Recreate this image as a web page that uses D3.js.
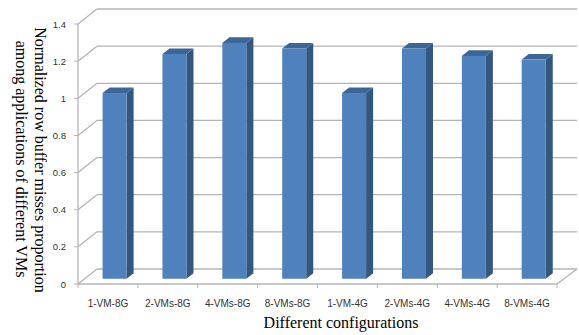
<!DOCTYPE html>
<html>
<head>
<meta charset="utf-8">
<script src="https://cdn.jsdelivr.net/npm/d3@7"></script>
<style>
body { margin: 0; background: #fff; }
</style>
</head>
<body>
<script>

var categories = ["1-VM-8G", "2-VMs-8G", "4-VMs-8G", "8-VMs-8G", "1-VM-4G", "2-VMs-4G", "4-VMs-4G", "8-VMs-4G"];
var values = [1.0, 1.21, 1.27, 1.24, 1.0, 1.24, 1.2, 1.18];
var yTicks = [0, 0.2, 0.4, 0.6, 0.8, 1, 1.2, 1.4];

var width = 579, height = 335;

// depth of the 3d box (back wall offset)
var DX = 19, DY = -15;
var z0 = 0.35, z1 = 0.72;

var x = d3.scaleBand().domain(categories).range([78, 557]);
var y = d3.scaleLinear().domain([0, 1.4]).range([284, 24]);

var svg = d3.select("body").append("svg")
    .attr("width", width)
    .attr("height", height);

var grid = svg.append("g");

// back wall gridlines
grid.selectAll(".back")
    .data(yTicks)
    .enter().append("line")
    .attr("x1", 78 + DX)
    .attr("x2", 557 + DX + 1)
    .attr("y1", function(d) { return y(d) + DY; })
    .attr("y2", function(d) { return y(d) + DY; })
    .attr("stroke", "#b4b4b4")
    .attr("stroke-width", 1.3);

// left wall diagonals
grid.selectAll(".side")
    .data(yTicks)
    .enter().append("line")
    .attr("x1", 78)
    .attr("x2", 78 + DX)
    .attr("y1", function(d) { return y(d); })
    .attr("y2", function(d) { return y(d) + DY; })
    .attr("stroke", "#b4b4b4")
    .attr("stroke-width", 1.3);

// floor right edge
grid.append("line")
    .attr("x1", 557).attr("y1", y(0))
    .attr("x2", 557 + DX + 1).attr("y2", y(0) + DY)
    .attr("stroke", "#b4b4b4")
    .attr("stroke-width", 1.3);

// front axis lines
grid.append("line")
    .attr("x1", 78).attr("x2", 78)
    .attr("y1", y(0)).attr("y2", y(1.4))
    .attr("stroke", "#b4b4b4")
    .attr("stroke-width", 1.3);

grid.append("line")
    .attr("x1", 78).attr("x2", 557)
    .attr("y1", y(0)).attr("y2", y(0))
    .attr("stroke", "#b4b4b4")
    .attr("stroke-width", 1.3);

// y ticks
grid.selectAll(".ytick")
    .data(yTicks)
    .enter().append("line")
    .attr("x1", 74).attr("x2", 78)
    .attr("y1", function(d) { return y(d); })
    .attr("y2", function(d) { return y(d); })
    .attr("stroke", "#b4b4b4");

// x ticks
var bounds = categories.map(function(c) { return x(c); }).concat([557]);
grid.selectAll(".xtick")
    .data(bounds)
    .enter().append("line")
    .attr("x1", function(d) { return d; })
    .attr("x2", function(d) { return d; })
    .attr("y1", y(0)).attr("y2", y(0) + 4)
    .attr("stroke", "#b4b4b4");

// bars
var barW = 24;
var bars = svg.append("g").selectAll("g")
    .data(values)
    .enter().append("g");

function bx(i) { return x(categories[i]) + (x.bandwidth() - barW) / 2; }

// side face
bars.append("path")
    .attr("fill", "#33577f")
    .attr("d", function(d, i) {
        var xr = bx(i) + barW;
        return "M" + (xr + z0 * DX) + "," + (y(d) + z0 * DY) +
            "L" + (xr + z1 * DX) + "," + (y(d) + z1 * DY) +
            "L" + (xr + z1 * DX) + "," + (y(0) + z1 * DY) +
            "L" + (xr + z0 * DX) + "," + (y(0) + z0 * DY) + "Z";
    });

// top face
bars.append("path")
    .attr("fill", "#3d6698")
    .attr("d", function(d, i) {
        var xl = bx(i), xr = xl + barW;
        return "M" + (xl + z0 * DX) + "," + (y(d) + z0 * DY) +
            "L" + (xr + z0 * DX) + "," + (y(d) + z0 * DY) +
            "L" + (xr + z1 * DX) + "," + (y(d) + z1 * DY) +
            "L" + (xl + z1 * DX) + "," + (y(d) + z1 * DY) + "Z";
    });

// front face
bars.append("rect")
    .attr("fill", "#4f81bd")
    .attr("x", function(d, i) { return bx(i) + z0 * DX; })
    .attr("y", function(d) { return y(d) + z0 * DY; })
    .attr("width", barW)
    .attr("height", function(d) { return y(0) - y(d); });

// y tick labels
svg.append("g").selectAll("text")
    .data(yTicks)
    .enter().append("text")
    .attr("x", 66)
    .attr("y", function(d) { return y(d) + 3.5; })
    .attr("text-anchor", "end")
    .attr("font-family", "Liberation Sans, Arial, sans-serif")
    .attr("font-size", 9.5)
    .attr("fill", "#333")
    .text(function(d) { return d; });

// category labels
svg.append("g").selectAll("text")
    .data(categories)
    .enter().append("text")
    .attr("x", function(d) { return x(d) + x.bandwidth() / 2; })
    .attr("y", 307)
    .attr("text-anchor", "middle")
    .attr("font-family", "Liberation Sans, Arial, sans-serif")
    .attr("font-size", 10)
    .attr("fill", "#333")
    .text(function(d) { return d; });

// axis titles
svg.append("text")
    .attr("x", 341)
    .attr("y", 328)
    .attr("text-anchor", "middle")
    .attr("font-family", "Liberation Serif, Times New Roman, serif")
    .attr("font-size", 16)
    .text("Different configurations");

svg.append("text")
    .attr("transform", "translate(35,160) rotate(90)")
    .attr("text-anchor", "middle")
    .attr("font-family", "Liberation Serif, Times New Roman, serif")
    .attr("font-size", 16)
    .text("Normalized row buffer misses proportion");

svg.append("text")
    .attr("transform", "translate(16,159) rotate(90)")
    .attr("text-anchor", "middle")
    .attr("font-family", "Liberation Serif, Times New Roman, serif")
    .attr("font-size", 16)
    .text("among applications of different VMs");

</script>
</body>
</html>
